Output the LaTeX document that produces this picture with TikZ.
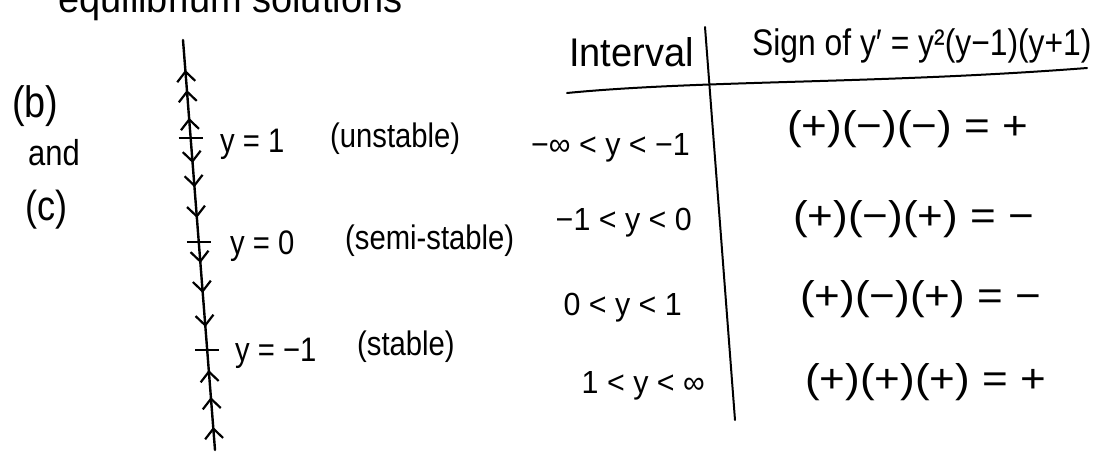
\documentclass[tikz,border=0pt]{standalone}
\usepackage{fontspec}
\setmainfont[FakeStretch=0.86]{Liberation Sans}
\newfontfamily\cellfont[FakeStretch=0.95]{Liberation Sans}
\newfontfamily\rowfont[FakeStretch=1.1]{Liberation Sans}
\usetikzlibrary{decorations.markings,arrows.meta}
\tikzset{phtip/.tip={Straight Barb[length=10pt,width=18pt,line width=2.2pt]}}
\begin{document}
\begin{tikzpicture}[x=1pt,y=-1pt,
  hand/.style={font=\fontsize{34}{38}\selectfont, inner sep=0pt},
  lbl/.style={hand, anchor=base west},
  cell/.style={inner sep=0pt, anchor=base east, font=\cellfont\fontsize{32}{36}\selectfont},
  sign/.style={inner sep=0pt, anchor=base west, font=\rowfont\fontsize{40}{44}\selectfont},
  big/.style={inner sep=0pt, anchor=base west, font=\fontsize{44}{48}\selectfont},
  rule/.style={line width=2pt, line cap=round},
  tickmark/.style={line width=2.6pt},
  phase/.style={line width=2.4pt, line cap=round, postaction={decorate},
    decoration={markings,
      mark=at position 0.073 with {\arrowreversed{phtip}},
      mark=at position 0.122 with {\arrowreversed{phtip}},
      mark=at position 0.190 with {\arrowreversed{phtip}},
      mark=at position 0.300 with {\arrow{phtip}},
      mark=at position 0.359 with {\arrow{phtip}},
      mark=at position 0.434 with {\arrow{phtip}},
      mark=at position 0.544 with {\arrow{phtip}},
      mark=at position 0.617 with {\arrow{phtip}},
      mark=at position 0.700 with {\arrow{phtip}},
      mark=at position 0.805 with {\arrowreversed{phtip}},
      mark=at position 0.871 with {\arrowreversed{phtip}},
      mark=at position 0.944 with {\arrowreversed{phtip}}}}
]
\useasboundingbox (0,0) rectangle (1100,453);

% cut-off heading at the top
\node[lbl, font=\cellfont\fontsize{40}{44}\selectfont] (head) at (58,12) {equilibrium solutions};

% part labels
\node[big] (b) at (12,117) {(b)};
\node[lbl, font=\fontsize{36}{40}\selectfont] (and) at (28,165) {and};
\node[big, font=\fontsize{42}{46}\selectfont] (c) at (25,220) {(c)};

% phase line
\coordinate (ptop) at (183,40);
\coordinate (pbot) at (215,450);
\draw[phase] (ptop) -- (pbot);
\coordinate (e1) at (190.6,138);
\coordinate (e0) at (198.8,242);
\coordinate (em1) at (207.2,350);
\draw[tickmark] ([xshift=-12pt]e1) -- ([xshift=12pt]e1);
\draw[tickmark] ([xshift=-12pt]e0) -- ([xshift=12pt]e0);
\draw[tickmark] ([xshift=-12pt]em1) -- ([xshift=12pt]em1);

% equilibrium labels
\node[lbl] (l1) at (220,152) {y = 1};
\node[lbl] (s1) at (330,147) {(unstable)};
\node[lbl] (l0) at (230,254) {y = 0};
\node[lbl] (s0) at (345,249) {(semi-stable)};
\node[lbl] (lm1) at (235,361) {y = −1};
\node[lbl] (sm1) at (357,355) {(stable)};

% table
\node[lbl, font=\cellfont\fontsize{40}{44}\selectfont] (hint) at (569,66) {Interval};
\node[lbl, font=\fontsize{37}{41}\selectfont] (hsign) at (752,55) {Sign of y′ = y²(y−1)(y+1)};
\coordinate (vtop) at (705,27);
\coordinate (vbot) at (735,420);
\draw[rule] (vtop) -- (vbot);
\coordinate (hl) at (567,93);
\coordinate (hr) at (1087,68);
\draw[rule] (hl) .. controls (700,80) and (880,84) .. (hr);

\node[cell] (i1) at (690,155) {−∞ < y < −1};
\node[cell] (i2) at (692,230) {−1 < y < 0};
\node[cell] (i3) at (682,315) {0 < y < 1};
\node[cell] (i4) at (705,393) {1 < y < ∞};

\node[sign] (g1) at (787,139) {(+)(−)(−) = +};
\node[sign] (g2) at (793,229) {(+)(−)(+) = −};
\node[sign] (g3) at (800,309) {(+)(−)(+) = −};
\node[sign] (g4) at (805,392) {(+)(+)(+) = +};
\end{tikzpicture}
\end{document}
